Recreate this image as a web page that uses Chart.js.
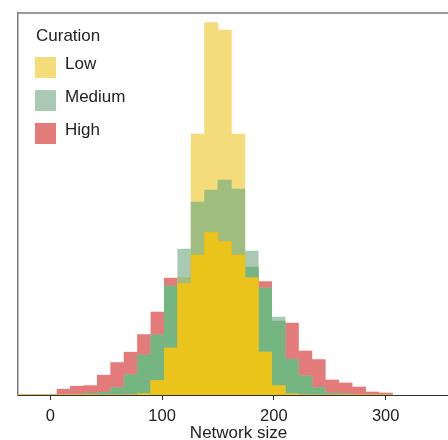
<!DOCTYPE html>
<html>
<head>
<meta charset="utf-8">
<script src="https://cdn.jsdelivr.net/npm/chart.js@4.4.1/dist/chart.umd.min.js"></script>
<style>
html, body { margin: 0; padding: 0; overflow: hidden; background: #fff; }
#wrap { position: relative; width: 460px; height: 440px; }
#legend { position: absolute; left: 0; top: 0; font-family: "Liberation Sans", Arial, sans-serif; font-size: 17px; color: #222; }
#legend .title { position: absolute; left: 36px; top: 25px; line-height: 22px; white-space: nowrap; }
#legend .item { position: absolute; left: 35px; height: 21px; line-height: 21px; white-space: nowrap; }
#legend .box { position: absolute; left: 0; top: 0; width: 21px; height: 21px; }
#legend .name { position: absolute; left: 30px; top: -4px; }
</style>
</head>
<body>
<div id="wrap">
  <canvas id="histChart"></canvas>
  <div id="legend"></div>
</div>
<script>
// bin centres (bins are 12 wide) and counts per curation level
const binCenters = [-24, -12, 0, 12, 24, 36, 48, 60, 72, 84, 96, 108, 120, 132, 144, 156, 168, 180, 192, 204, 216, 228, 240, 252, 264, 276, 288, 300];
const lowCounts = [0.3, 0, 0, 0, 0, 0, 0, 0, 0, 0.6, 7.2, 23.4, 58.7, 130.5, 186.2, 182.5, 130.5, 58.5, 21.4, 4.5, 0.5, 0, 0, 0, 0, 0, 0, 0];
const mediumCounts = [0, 0, 0, 0, 0, 0.8, 1.3, 3.7, 10.2, 20, 30, 54.5, 73, 96.5, 102.5, 107.5, 103, 72, 53.4, 39, 17.9, 9.5, 3.7, 0.9, 0.5, 0, 0, 0];
const highCounts = [0, 0, 0, 2.9, 4.4, 4.7, 9.9, 16.2, 21.4, 30.2, 41.5, 58.4, 55.7, 70, 81.2, 76.7, 70, 64, 56.7, 36.9, 36, 22, 17.7, 7.5, 6, 4, 1.5, 1];
const seriesNames = ['Low', 'Medium', 'High'];
const xTicks = [0, 100, 200, 300];

const colors = {
    low: '#f3dc79',
    medium: '#a9c9b5',
    high: '#e27b7a',
    lowMed: '#9fbd7e',
    medHigh: '#75b581',
    lowHigh: '#e9a84a',
    all: '#eac31b'
};

// overlap layers, so each region gets the colour of the groups that share it
function minOf(...arrs) {
    return arrs[0].map((_, i) => Math.min(...arrs.map(a => a[i])));
}
function points(values) {
    return binCenters.map((x, i) => ({ x: x, y: values[i] }));
}

const layers = [
    { label: 'High', values: highCounts, color: colors.high },
    { label: 'Medium', values: mediumCounts, color: colors.medium },
    { label: 'Medium+High', values: minOf(mediumCounts, highCounts), color: colors.medHigh },
    { label: 'Low', values: lowCounts, color: colors.low },
    { label: 'Low+Medium', values: minOf(lowCounts, mediumCounts), color: colors.lowMed },
    { label: 'Low+High', values: minOf(lowCounts, highCounts), color: colors.lowHigh },
    { label: 'All', values: minOf(lowCounts, mediumCounts, highCounts), color: colors.all }
];

const datasets = layers.map((l, i) => ({
    label: l.label,
    data: points(l.values),
    backgroundColor: l.color,
    borderWidth: 0,
    grouped: false,
    stack: 'same',
    barPercentage: 1,
    categoryPercentage: 1,
    order: layers.length - i
}));

// top frame line
const topFrame = {
    id: 'topFrame',
    afterDraw(chart) {
        const { ctx, chartArea } = chart;
        ctx.save();
        ctx.strokeStyle = '#7a7a7a';
        ctx.lineWidth = 1.5;
        ctx.beginPath();
        ctx.moveTo(chartArea.left - 0.75, chartArea.top);
        ctx.lineTo(chartArea.right, chartArea.top);
        ctx.stroke();
        ctx.restore();
    }
};

const ctx = document.getElementById('histChart').getContext('2d');
new Chart(ctx, {
    type: 'bar',
    data: { datasets: datasets },
    options: {
        responsive: true,
        maintainAspectRatio: false,
        animation: false,
        layout: { padding: { top: 13, right: 1, left: 0, bottom: 0 } },
        plugins: { legend: { display: false }, tooltip: { enabled: false } },
        scales: {
            x: {
                type: 'linear',
                min: -28.9,
                max: 365.6,
                offset: false,
                afterFit(scale) { scale.height = 45; },
                afterBuildTicks(scale) { scale.ticks = xTicks.map(v => ({ value: v })); },
                ticks: {
                    padding: 7,
                    color: '#222',
                    font: { family: '"Liberation Sans", Arial, sans-serif', size: 16.5 },
                    maxRotation: 0,
                    autoSkip: false
                },
                grid: { display: true, offset: false, drawOnChartArea: false, drawTicks: true, tickLength: 5, color: '#333', lineWidth: 1 },
                border: { display: true, color: '#333', width: 1 },
                title: {
                    display: true,
                    text: 'Network size',
                    color: '#222',
                    padding: { top: 0, bottom: 0 },
                    font: { family: '"Liberation Sans", Arial, sans-serif', size: 17, lineHeight: 0.82 }
                }
            },
            y: {
                min: 0,
                max: 191,
                stacked: false,
                afterFit(scale) { scale.width = 18; },
                ticks: { display: false },
                grid: { display: false },
                border: { display: true, color: '#7a7a7a', width: 1.5 }
            }
        }
    },
    plugins: [topFrame]
});

// legend for the three curation groups
const legendEl = document.getElementById('legend');
const legendColors = [colors.low, colors.medium, colors.high];
let html = '<div class="title">Curation</div>';
seriesNames.forEach((name, i) => {
    html += '<div class="item" style="top:' + (57 + i * 33) + 'px"><div class="box" style="background:' + legendColors[i] + '"></div><div class="name">' + name + '</div></div>';
});
legendEl.innerHTML = html;
</script>
</body>
</html>
